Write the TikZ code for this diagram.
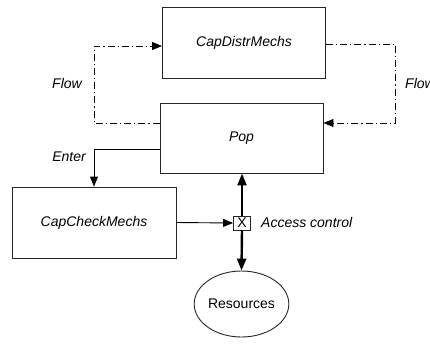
\documentclass[tikz,border=0pt]{standalone}
\usepackage{fontspec}
\setmainfont{Liberation Sans}
\usetikzlibrary{arrows.meta,shapes.geometric}
\begin{document}
\begin{tikzpicture}[x=1pt,y=-1pt,
  box/.style={draw=black!85,line width=0.9pt,minimum width=163pt,minimum height=71pt,inner sep=0pt,font=\fontsize{14}{16}\selectfont\itshape},
  lbl/.style={inner sep=0pt,font=\fontsize{14}{16}\selectfont\itshape},
  flow/.style={line width=0.9pt,dash pattern=on 7pt off 3pt on 1.2pt off 3pt},
  thin/.style={line width=0.9pt},
  thick/.style={line width=2.4pt},
  tip/.style={-{Triangle[length=10pt,width=8pt]}},
  both/.style={{Triangle[length=12pt,width=9pt]}-{Triangle[length=12pt,width=9pt]}}]
\clip (0,0) rectangle (430,343);
\node[box] (cd) at (244,42.5) {CapDistrMechs};
\node[box,minimum height=70pt] (pop) at (241.5,138) {Pop};
\node[box,minimum width=164pt] (cc) at (94,222.5) {CapCheckMechs};
\node[draw=black!85,line width=0.9pt,minimum width=17pt,minimum height=14pt,inner sep=0pt,font=\fontsize{14}{16}\selectfont] (x) at (242,223) {X};
\node[draw=black!85,line width=0.9pt,ellipse,minimum width=91pt,minimum height=66pt,inner sep=0pt,font=\fontsize{14}{16}\selectfont] (res) at (241.5,304) {Resources};
\coordinate (fl) at (94,123);
\coordinate (fr) at (395,44);
\draw[flow,tip] ([yshift=15pt]pop.west) -- (fl) |- ([yshift=-3.5pt]cd.west);
\draw[flow,tip] ([yshift=-1.5pt]cd.east) -- (fr) |- ([yshift=15pt]pop.east);
\draw[thin,tip] ([yshift=-11pt]pop.west) -| (cc.north);
\draw[thin,tip] (cc.east) -- (x.west);
\draw[thick,-{Triangle[length=12pt,width=9pt]}] (x.north) -- (x.north |- pop.south);
\draw[thick,-{Triangle[length=12pt,width=9pt]}] (x.south) -- (res.north);
\node[lbl] (f1) at (67,83) {Flow};
\node[lbl,anchor=west] (f2) at (405,83) {Flow};
\node[lbl] (en) at (69,157) {Enter};
\node[lbl,anchor=west] (ac) at (261,222) {Access control};
\end{tikzpicture}
\end{document}
